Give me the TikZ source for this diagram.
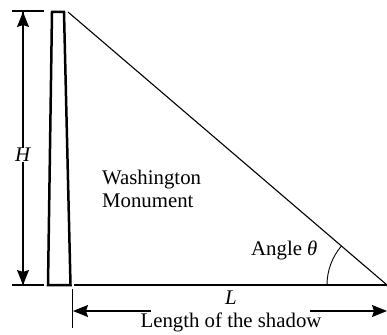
\documentclass[tikz,border=0pt]{standalone}
\usepackage{fontspec}
\setmainfont{Liberation Serif}
\usetikzlibrary{arrows.meta}
\begin{document}
\begin{tikzpicture}[x=1pt,y=-1pt,
  lbl/.style={font=\fontsize{20.8}{23}\selectfont, inner sep=1pt},
  thin line/.style={line width=1.2pt},
  dimarrow/.style={line width=1.1pt, -{Stealth[length=15pt,width=12pt,inset=2pt]}},
  monu/.style={line width=2.5pt, line join=miter}]
\useasboundingbox (0,0) rectangle (387,334);
% named points
\coordinate (ttop1) at (12,11);
\coordinate (ttop2) at (44,11);
\coordinate (tbot1) at (12,285);
\coordinate (tbot2) at (44,285);
\coordinate (Htop) at (23,12);
\coordinate (Hbot) at (23,285);
\coordinate (mTL) at (52,12);
\coordinate (mTR) at (64,12);
\coordinate (mBR) at (70.5,285);
\coordinate (mBL) at (48,285);
\coordinate (apex) at (68,12);
\coordinate (g0) at (74,285);
\coordinate (tip) at (387,285);
\coordinate (vt1) at (72,289);
\coordinate (vt2) at (72,328);
\coordinate (la) at (151,311);
\coordinate (lb) at (73,311);
\coordinate (ra) at (310,311);
\coordinate (rb) at (387,311);
% monument
\draw[monu] (mBL) -- (mTL) -- (mTR) -- (mBR) -- cycle;
% ticks
\draw[thin line] (ttop1) -- (ttop2);
\draw[thin line] (tbot1) -- (tbot2);
% height arrow
\draw[dimarrow] (Hbot) -- (Htop);
\draw[dimarrow] (Htop) -- (Hbot);
\node[lbl, fill=white, inner sep=0.5pt] (H) at (23,155) {\textit{H}};
% ground and hypotenuse
\draw[thin line] (g0) -- (tip);
\draw[line width=1.1pt] (apex) -- (tip);
% angle arc
\draw[line width=0.9pt] ([xshift=-60pt]tip) arc[start angle=180, end angle=139.4, radius=60pt];
% shadow arrows
\draw[line width=1pt] (vt1) -- (vt2);
\draw[dimarrow] (la) -- (lb);
\draw[dimarrow] (ra) -- (rb);
% labels
\node[lbl] (L) at (231,298) {\textit{L}};
\node[lbl] (shadow) at (231,322) {Length of the shadow};
\node[lbl, anchor=west, align=left] (wm) at (101,189) {Washington\\Monument};
\node[lbl, anchor=west] (ang) at (250,250) {Angle \textit{θ}};
\end{tikzpicture}
\end{document}
